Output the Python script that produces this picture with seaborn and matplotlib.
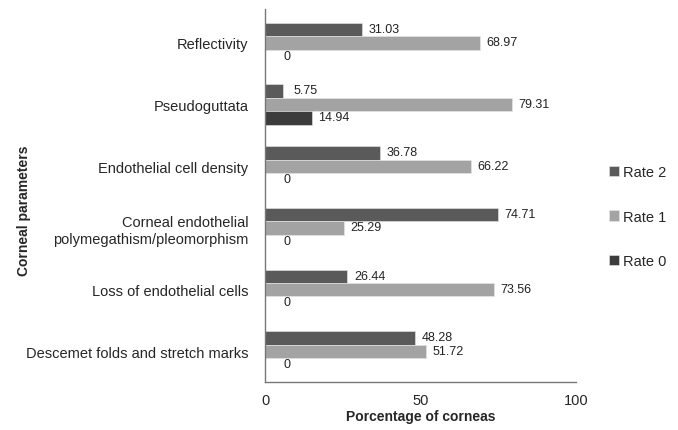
import pandas as pd
import seaborn as sns
import matplotlib.pyplot as plt

# Data
parameters = ['Reflectivity', 'Pseudoguttata', 'Endothelial cell density',
              'Corneal endothelial\npolymegathism/pleomorphism',
              'Loss of endothelial cells', 'Descemet folds and stretch marks']
rates = ['Rate 2', 'Rate 1', 'Rate 0']
rate2 = [31.03, 5.75, 36.78, 74.71, 26.44, 48.28]
rate1 = [68.97, 79.31, 66.22, 25.29, 73.56, 51.72]
rate0 = [0, 14.94, 0, 0, 0, 0]
colors = ['#5a5a5a', '#a3a3a3', '#3c3c3c']

rows = []
for r, vals in zip(rates, [rate2, rate1, rate0]):
    for p, v in zip(parameters, vals):
        rows.append({'param': p, 'rate': r, 'value': v})
df = pd.DataFrame(rows)

sns.set_style('white')
plt.rcParams['font.family'] = ['Liberation Sans', 'DejaVu Sans']

fig = plt.figure(figsize=(6.78, 4.31), dpi=100)
ax = fig.add_axes([0.391, 0.111, 0.459, 0.866])

sns.barplot(data=df, x='value', y='param', hue='rate', hue_order=rates,
            order=parameters, palette=colors, orient='h', width=0.65, gap=0,
            edgecolor='#e8e8e8', linewidth=0.4, ax=ax)

# value labels centred just past the bar end
for cont in ax.containers:
    for bar in cont:
        w = bar.get_width()
        y = bar.get_y() + bar.get_height() / 2
        ax.annotate('0' if w == 0 else f'{w:.2f}', (w, y), xytext=(16, 0.5),
                    textcoords='offset points', ha='center', va='center',
                    fontsize=9, color='#222222')

ax.set_xlim(0, 100)
ax.set_ylim(5.5, -0.55)
ax.set_xticks([0, 50, 100])
ax.tick_params(axis='x', length=4, color='#777777', labelsize=10.5, pad=4)
ax.tick_params(axis='y', length=0, labelsize=10.5, pad=12)
for s in ['top', 'right']:
    ax.spines[s].set_visible(False)
for s in ['left', 'bottom']:
    ax.spines[s].set_color('#777777')
    ax.spines[s].set_linewidth(1.0)

ax.set_xlabel('Porcentage of corneas', fontsize=10, fontweight='bold', labelpad=1)
ax.set_ylabel('')
fig.text(0.035, 0.51, 'Corneal parameters', rotation=90, ha='center', va='center',
         fontsize=10, fontweight='bold')

ax.legend(loc='center left', bbox_to_anchor=(0.879, 0.495), bbox_transform=fig.transFigure,
          frameon=False, fontsize=10.5, labelspacing=2.1, handlelength=0.7,
          handleheight=0.7, handletextpad=0.25)

fig.savefig('out.png', dpi=100)
